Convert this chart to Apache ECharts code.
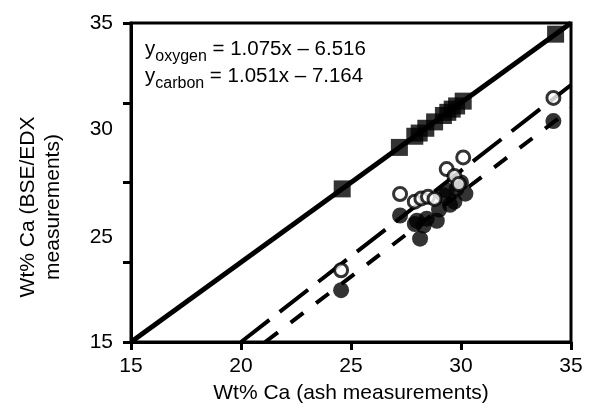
<!DOCTYPE html>
<html><head><meta charset="utf-8">
<script src="https://cdn.jsdelivr.net/npm/echarts@6/dist/echarts.min.js"></script>
<style>html,body{margin:0;padding:0;background:#fff}#c{width:593px;height:409px}</style>
</head><body><div id="c"></div>
<script>
// Filled squares (on the 1:1 line)
const squareX = [24.6, 27.2, 27.9, 28.1, 28.4, 28.8, 29.2, 29.4, 29.6, 29.8, 30.1, 34.3];
const squareY = [24.6, 27.2, 27.9, 28.1, 28.4, 28.8, 29.2, 29.4, 29.6, 29.8, 30.1, 34.3];
// Open circles (oxygen)
const oxygenX = [24.55, 27.23, 27.9, 28.2, 28.5, 28.8, 29.35, 29.7, 29.9, 30.1, 34.2];
const oxygenY = [19.5, 24.28, 23.8, 24.0, 24.1, 23.97, 25.84, 25.4, 24.9, 26.57, 30.3];
// Filled circles (carbon)
const carbonX = [24.55, 27.23, 27.9, 28.0, 28.14, 28.3, 28.44, 28.9, 29.0, 29.2, 29.35, 29.5, 29.7, 29.8, 30.0, 30.2, 34.2];
const carbonY = [18.25, 22.93, 22.4, 22.6, 21.48, 22.3, 22.73, 22.6, 23.3, 24.2, 24.5, 23.6, 23.8, 24.6, 25.0, 24.3, 28.85];
// Lines (endpoints)
const identityX = [15, 35];
const identityY = [15, 35];
const oxyLineX = [20, 35];
const oxyLineY = [15.0, 31.11];
const carbLineX = [21.1, 35];
const carbLineY = [15.0, 29.62];
// Axis ticks / labels
const xTicks = [15, 20, 25, 30, 35];
const yTicks = [15, 20, 25, 30, 35];
const yLabelPos = [15, 21.55, 28.33, 35];
const yLabelText = ['15', '25', '30', '35'];
const xTitle = 'Wt% Ca (ash measurements)';
const yTitle = 'Wt% Ca (BSE/EDX\nmeasurements)';
const eqOxygen = ['y', 'oxygen', ' = 1.075x \u2013 6.516'];
const eqCarbon = ['y', 'carbon', ' = 1.051x \u2013 7.164'];

const zip = (a, b) => a.map((v, i) => [v, b[i]]);
const FONT = 'Liberation Sans';
const chart = echarts.init(document.getElementById('c'));
chart.setOption({
  animation: false,
  backgroundColor: '#fff',
  textStyle: { fontFamily: FONT },
  grid: { left: 131, top: 23, width: 440, height: 321, show: true, borderColor: '#000', borderWidth: 3, backgroundColor: 'transparent' },
  xAxis: {
    type: 'value', min: 15, max: 35, interval: 5,
    axisLine: { lineStyle: { color: '#000', width: 3 } },
    axisTick: { show: true, length: 8, lineStyle: { color: '#000', width: 3 }, customValues: xTicks },
    axisLabel: { color: '#000', fontSize: 21, fontFamily: FONT, margin: 14, customValues: xTicks },
    splitLine: { show: false },
    name: xTitle, nameLocation: 'middle', nameGap: 41,
    nameTextStyle: { color: '#000', fontSize: 21, fontFamily: FONT }
  },
  yAxis: {
    type: 'value', min: 15, max: 35, interval: 5,
    axisLine: { lineStyle: { color: '#000', width: 3 } },
    axisTick: { show: true, length: 8, lineStyle: { color: '#000', width: 3 }, customValues: yTicks },
    axisLabel: {
      color: '#000', fontSize: 21, fontFamily: FONT, margin: 18, customValues: yLabelPos,
      formatter: v => { const i = yLabelPos.findIndex(p => Math.abs(p - v) < 1e-6); return i >= 0 ? yLabelText[i] : ''; }
    },
    splitLine: { show: false }
  },
  series: [
    { type: 'line', data: zip(identityX, identityY), symbol: 'none', lineStyle: { color: '#000', width: 5 }, z: 2 },
    { type: 'line', data: zip(oxyLineX, oxyLineY), symbol: 'none', lineStyle: { color: '#000', width: 4, type: [36, 13] }, z: 2 },
    { type: 'line', data: zip(carbLineX, carbLineY), symbol: 'none', lineStyle: { color: '#000', width: 4, type: [16, 16] }, z: 2 },
    { type: 'scatter', data: zip(squareX, squareY), symbol: 'rect', symbolSize: 17, itemStyle: { color: '#000' }, z: 3 },
    { type: 'scatter', data: zip(carbonX, carbonY), symbol: 'circle', symbolSize: 16, itemStyle: { color: '#000' }, z: 3 },
    { type: 'scatter', data: zip(oxygenX, oxygenY), symbol: 'circle', symbolSize: 13, itemStyle: { color: '#fff', borderColor: '#000', borderWidth: 3 }, z: 4 }
  ],
  graphic: [{
    type: 'text', left: 145, top: 33, z: 10,
    style: {
      text: '{m|' + eqOxygen[0] + '}{s|' + eqOxygen[1] + '}{m|' + eqOxygen[2] + '}\n{m|' + eqCarbon[0] + '}{s|' + eqCarbon[1] + '}{m|' + eqCarbon[2] + '}',
      fill: '#000',
      rich: {
        m: { fontSize: 20.5, fontFamily: FONT, lineHeight: 27, fill: '#000' },
        s: { fontSize: 16, fontFamily: FONT, lineHeight: 11, padding: [16, 0, 0, 0], fill: '#000' }
      }
    }
  }, {
    type: 'text', x: 41, y: 207, rotation: Math.PI / 2, z: 10,
    style: {
      text: yTitle, fill: '#000', fontSize: 21, fontFamily: FONT, lineHeight: 25,
      align: 'center', verticalAlign: 'middle'
    }
  }]
});
</script></body></html>
